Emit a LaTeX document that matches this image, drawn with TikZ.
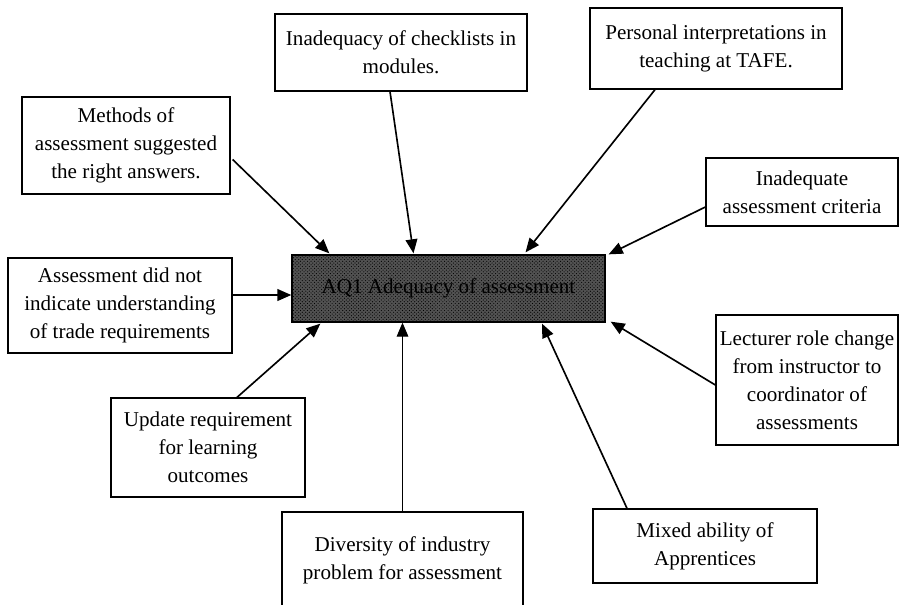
\documentclass[tikz,border=0pt]{standalone}
\usepackage{fontspec}
\setmainfont{Liberation Serif}
\usetikzlibrary{arrows.meta,calc,patterns}

\begin{document}
\begin{tikzpicture}[x=0.03cm,y=-0.03cm,
    box/.style={draw, line width=1.1pt, align=center, inner sep=0pt,
      font=\fontsize{18}{24}\selectfont},
    link/.style={line width=1.4pt, -{Triangle[length=12pt,width=10pt]}}]
    \useasboundingbox (0,0) rectangle (899,604);
    % Core issue
    \node[box, fill=black!68, postaction={pattern=crosshatch dots},
      minimum width=9.39cm, minimum height=2.01cm] (aq) at (448.5,288.5)
      {AQ1 Adequacy of assessment};
    % Causes
    \node[box, minimum width=6.24cm, minimum height=2.91cm] (meth) at (126,145.5)
      {Methods of\\assessment suggested\\the right answers.};
    \node[box, minimum width=7.56cm, minimum height=2.31cm] (chk) at (401,52.5)
      {Inadequacy of checklists in\\modules.};
    \node[box, minimum width=7.56cm, minimum height=2.43cm] (pers) at (716,48.5)
      {Personal interpretations in\\teaching at TAFE.};
    \node[box, minimum width=5.76cm, minimum height=2.04cm] (crit) at (802,192)
      {Inadequate\\assessment criteria};
    \node[box, minimum width=6.72cm, minimum height=2.85cm] (asmt) at (120,305.5)
      {Assessment did not\\indicate understanding\\of trade requirements};
    \node[box, minimum width=5.82cm, minimum height=2.97cm] (upd) at (208,447.5)
      {Update requirement\\for learning\\outcomes};
    \node[box, minimum width=7.23cm, minimum height=2.88cm] (div) at (402.5,560)
      {Diversity of industry\\problem for assessment};
    \node[box, minimum width=6.72cm, minimum height=2.22cm] (mix) at (705,546)
      {Mixed ability of\\Apprentices};
    \node[box, minimum width=5.46cm, minimum height=3.9cm] (lect) at (807,380)
      {Lecturer role change\\from instructor to\\coordinator of\\assessments};
    % Arrows
    \draw[link] ($(meth.east)+(2,14)$) -- ($(aq.north west)+(38,-1)$);
    \draw[link] ($(chk.south)+(-11,0)$) -- ($(aq.north)+(-35,-1)$);
    \draw[link] ($(pers.south)+(-61,0)$) -- ($(aq.north)+(77,-2)$);
    \draw[link] ($(crit.west)+(0,15)$) -- ($(aq.north east)+(3,0)$);
    \draw[link, line width=1.8pt] ($(asmt.east)+(0,-10.5)$) -- ($(aq.west)+(0,6.5)$);
    \draw[link] ($(upd.north)+(29,0)$) -- ($(aq.south west)+(29,1)$);
    \draw[link, line width=0.8pt] (div.north) -- (div.north |- aq.south);
    \draw[link] ($(mix.north)+(-78,0)$) -- ($(aq.south)+(93.5,1)$);
    \draw[link] ($(lect.west)+(0,5)$) -- ($(aq.south east)+(5,-1)$);
\end{tikzpicture}
\end{document}
